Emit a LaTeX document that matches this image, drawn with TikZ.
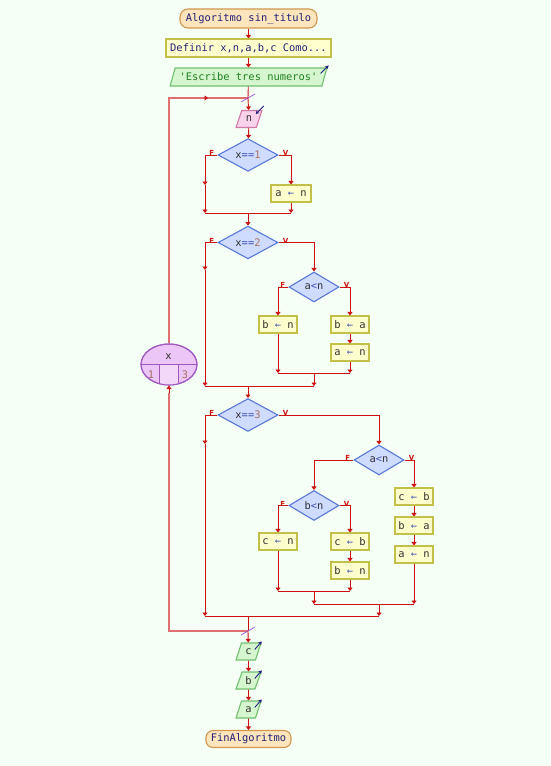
\documentclass[tikz,border=0pt]{standalone}
\usepackage{fontspec}
\setmonofont{DejaVu Sans Mono}
\setsansfont{DejaVu Sans}
\usetikzlibrary{shapes.geometric,arrows.meta,calc}

\definecolor{bg}{HTML}{F6FFF6}
\definecolor{flowred}{HTML}{CC1111}
\definecolor{loopred}{HTML}{E07070}
\definecolor{termfill}{HTML}{FCE4BC}
\definecolor{termdraw}{HTML}{D09850}
\definecolor{procfill}{HTML}{FFFFCE}
\definecolor{procdraw}{HTML}{C2C048}
\definecolor{outfill}{HTML}{D6F6D0}
\definecolor{outdraw}{HTML}{70C070}
\definecolor{infill}{HTML}{F8D2EA}
\definecolor{indraw}{HTML}{D078A8}
\definecolor{decfill}{HTML}{D0DCFF}
\definecolor{decdraw}{HTML}{5878D8}
\definecolor{parafill}{HTML}{ECC6F6}
\definecolor{paralight}{HTML}{F3D8FA}
\definecolor{paradraw}{HTML}{A058C0}
\definecolor{kw}{HTML}{202078}
\definecolor{varc}{HTML}{303030}
\definecolor{opc}{HTML}{4050B0}
\definecolor{numc}{HTML}{A87060}
\definecolor{strc}{HTML}{208020}
\definecolor{slashc}{HTML}{A060E0}
\definecolor{iconc}{HTML}{202080}

\newcommand{\op}[1]{\textcolor{opc}{#1}}
\newcommand{\nm}[1]{\textcolor{numc}{#1}}
\newcommand{\asg}[2]{#1 \op{←} #2}

\tikzset{
  base/.style={font=\ttfamily\fontsize{10.4}{12}\selectfont, text=varc,
    inner sep=2pt, line width=1.1pt},
  term/.style={base, rectangle, rounded corners=8pt, draw=termdraw,
    fill=termfill, minimum height=19, text=kw},
  proc/.style={base, rectangle, draw=procdraw, fill=procfill,
    minimum height=17, minimum width=38},
  outp/.style={base, trapezium, trapezium left angle=68,
    trapezium right angle=112, trapezium stretches=true,
    draw=outdraw, fill=outfill, minimum height=17, minimum width=25},
  inp/.style={outp, draw=indraw, fill=infill},
  dec/.style={base, diamond, draw=decdraw, fill=decfill,
    minimum width=60, minimum height=30, inner sep=0pt},
  para/.style={base, ellipse, draw=paradraw, fill=parafill,
    minimum width=56, minimum height=41, inner sep=0pt},
  flow/.style={draw=flowred, line width=0.9pt,
    -{Triangle[length=3.5pt,width=5pt]}},
  wire/.style={draw=flowred, line width=0.9pt},
  loopline/.style={draw=loopred, line width=1.8pt},
  lbl/.style={font=\sffamily\bfseries\fontsize{7}{8}\selectfont,
    text=flowred, inner sep=0pt},
  icon/.style={draw=iconc, line width=0.9pt,
    -{Stealth[length=3.5pt,width=4pt]}},
  slashmark/.style={draw=slashc, line width=0.8pt},
}

\begin{document}
\begin{tikzpicture}[x=1pt,y=-1pt]
\fill[bg] (0,0) rectangle (550,766);
\useasboundingbox (0,0) rectangle (550,766);

% ---------- header ----------
\node[term, minimum width=137] (start) at (248.5,18.5) {Algoritmo sin\_titulo};
\node[proc, minimum width=165, minimum height=18, text=kw] (def) at (248.5,48)
  {Definir x,n,a,b,c Como...};
\node[outp, minimum width=157, minimum height=18] (esc) at (248.5,77)
  {\textcolor{strc}{'Escribe tres numeros'}};

\draw[flow] (start) -- (def);
\draw[flow] (def) -- (esc);

% ---------- for loop ----------
\coordinate (ltop) at (248,98);
\coordinate (lmark) at (208,98);
\coordinate (lbot) at (248,631);
\coordinate (lret) at (169,393);

\node[para] (pfor) at (169,364.5) {};
\begin{scope}
  \clip (pfor.center) ellipse (28 and 20.5);
  \fill[paralight] (159,364.5) rectangle (178,390);
  \draw[paradraw, line width=1pt] (141,364.5) -- (197,364.5);
  \draw[paradraw, line width=1pt] (159,364.5) -- (159,390);
  \draw[paradraw, line width=1pt] (178,364.5) -- (178,390);
\end{scope}
\draw[paradraw, line width=1pt] (pfor.center) ellipse (28 and 20.5);
\node[base, inner sep=0pt] (pvar) at (168.5,356.5) {x};
\node[base, inner sep=0pt] (pini) at (151,375) {\nm{1}};
\node[base, inner sep=0pt] (pfin) at (185,375) {\nm{3}};

\draw[loopline] (pfor.north) |- (ltop);
\draw[draw=flowred, line width=0.9pt, -{Triangle[length=3.5pt,width=5pt]}]
  ([xshift=-2pt]lmark) -- (lmark);
\draw[loopline] (lbot) -| (lret);
\draw[flow] (lret) -- (pfor.south);

\draw[wire] (esc) -- (ltop);
\draw[slashmark] ([shift={(-7,4)}]ltop) -- ++(14,-8);

\node[inp, minimum width=26] (nin) at (249,119) {n};
\draw[flow] (ltop) -- (nin);
\draw[icon] ([shift={(1,-4)}]nin.top right corner) -- ++(-8,8);

% ---------- x==1 ----------
\node[dec] (d1) at (248,155) {x\op{==}\nm{1}};
\node[lbl, anchor=south east] (f1) at ([shift={(-3,1)}]d1.west) {F};
\node[lbl, anchor=south west] (v1) at ([shift={(4,1)}]d1.east) {V};
\node[proc, minimum width=40] (a1) at (291,193.5) {\asg{a}{n}};
\coordinate (f1m) at (205,185);
\coordinate (j1l) at (205,213);
\coordinate (j1r) at (291,213);
\coordinate (j1) at (248,213);

\draw[flow] (nin) -- (d1);
\draw[flow] (d1.west) -| (f1m);
\draw[flow] (f1m) -- (j1l);
\draw[flow] (d1.east) -| (a1);
\draw[flow] (a1) -- (j1r);
\draw[wire] (j1l) -- (j1r);

% ---------- x==2 ----------
\node[dec] (d2) at (248,242.5) {x\op{==}\nm{2}};
\node[lbl, anchor=south east] (f2) at ([shift={(-3,1)}]d2.west) {F};
\node[lbl, anchor=south west] (v2) at ([shift={(4,1)}]d2.east) {V};
\draw[flow] (j1) -- (d2);

\node[dec, minimum width=50] (d2b) at (314,287) {a\op{<}n};
\node[lbl, anchor=south east] (f2b) at ([shift={(-3,1)}]d2b.west) {F};
\node[lbl, anchor=south west] (v2b) at ([shift={(4,1)}]d2b.east) {V};
\node[proc] (bn2) at (278,324.5) {\asg{b}{n}};
\node[proc] (ba2) at (350,324.5) {\asg{b}{a}};
\node[proc] (an2) at (350,352.5) {\asg{a}{n}};

\coordinate (f2m) at (205,270);
\coordinate (j2l) at (205,386);
\coordinate (j2r) at (314,386);
\coordinate (j2) at (248,386);
\coordinate (j2bl) at (278,373);
\coordinate (j2br) at (350,373);
\coordinate (j2b) at (314,373);

\draw[flow] (d2.west) -| (f2m);
\draw[flow] (f2m) -- (j2l);
\draw[flow] (d2.east) -| (d2b);
\draw[flow] (d2b.west) -| (bn2);
\draw[flow] (d2b.east) -| (ba2);
\draw[flow] (ba2) -- (an2);
\draw[flow] (bn2) -- (j2bl);
\draw[flow] (an2) -- (j2br);
\draw[wire] (j2bl) -- (j2br);
\draw[flow] (j2b) -- (j2r);
\draw[wire] (j2l) -- (j2r);

% ---------- x==3 ----------
\node[dec] (d3) at (248,415) {x\op{==}\nm{3}};
\node[lbl, anchor=south east] (f3) at ([shift={(-3,1)}]d3.west) {F};
\node[lbl, anchor=south west] (v3) at ([shift={(4,1)}]d3.east) {V};
\draw[flow] (j2) -- (d3);

\node[dec, minimum width=50] (d3b) at (379,460) {a\op{<}n};
\node[lbl, anchor=south east] (f3b) at ([shift={(-3,1)}]d3b.west) {F};
\node[lbl, anchor=south west] (v3b) at ([shift={(4,1)}]d3b.east) {V};
\node[proc] (cb3) at (414,496.5) {\asg{c}{b}};
\node[proc] (ba3) at (414,525.5) {\asg{b}{a}};
\node[proc] (an3) at (414,554.5) {\asg{a}{n}};

\node[dec, minimum width=50] (d4) at (314,505.5) {b\op{<}n};
\node[lbl, anchor=south east] (f4) at ([shift={(-3,1)}]d4.west) {F};
\node[lbl, anchor=south west] (v4) at ([shift={(4,1)}]d4.east) {V};
\node[proc] (cn4) at (278,541.5) {\asg{c}{n}};
\node[proc] (cb4) at (350,541.5) {\asg{c}{b}};
\node[proc] (bn4) at (350,570.5) {\asg{b}{n}};

\coordinate (f3m) at (205,444);
\coordinate (j3l) at (205,616);
\coordinate (j3r) at (379,616);
\coordinate (j3) at (248,616);
\coordinate (j3c) at (379,604);
\coordinate (j3m) at (314,604);
\coordinate (j3r2) at (414,604);
\coordinate (j4l) at (278,591);
\coordinate (j4r) at (350,591);
\coordinate (j4) at (314,591);

\draw[flow] (d3.west) -| (f3m);
\draw[flow] (f3m) -- (j3l);
\draw[flow] (d3.east) -| (d3b);
\draw[flow] (d3b.west) -| (d4);
\draw[flow] (d3b.east) -| (cb3);
\draw[flow] (cb3) -- (ba3);
\draw[flow] (ba3) -- (an3);
\draw[flow] (d4.west) -| (cn4);
\draw[flow] (d4.east) -| (cb4);
\draw[flow] (cb4) -- (bn4);
\draw[flow] (cn4) -- (j4l);
\draw[flow] (bn4) -- (j4r);
\draw[wire] (j4l) -- (j4r);
\draw[flow] (j4) -- (j3m);
\draw[flow] (an3) -- (j3r2);
\draw[wire] (j3m) -- (j3r2);
\draw[flow] (j3c) -- (j3r);
\draw[wire] (j3l) -- (j3r);

% ---------- loop end and outputs ----------
\draw[wire] (j3) -- (lbot);
\draw[slashmark] ([shift={(-7,4)}]lbot) -- ++(14,-8);

\node[outp] (oc) at (248.5,651.5) {c};
\node[outp] (ob) at (248.5,680.5) {b};
\node[outp] (oa) at (248.5,709.5) {a};
\node[term, minimum width=85, minimum height=17, rounded corners=7pt] (fin)
  at (248.5,739) {FinAlgoritmo};

\draw[flow] (lbot) -- (oc);
\draw[flow] (oc) -- (ob);
\draw[flow] (ob) -- (oa);
\draw[flow] (oa) -- (fin);

\draw[icon] ([shift={(-7,6)}]esc.top right corner) -- ++(8,-8);
\draw[icon] ([shift={(-7,7)}]oc.top right corner) -- ++(7,-8);
\draw[icon] ([shift={(-7,7)}]ob.top right corner) -- ++(7,-8);
\draw[icon] ([shift={(-7,7)}]oa.top right corner) -- ++(7,-8);
\end{tikzpicture}
\end{document}
